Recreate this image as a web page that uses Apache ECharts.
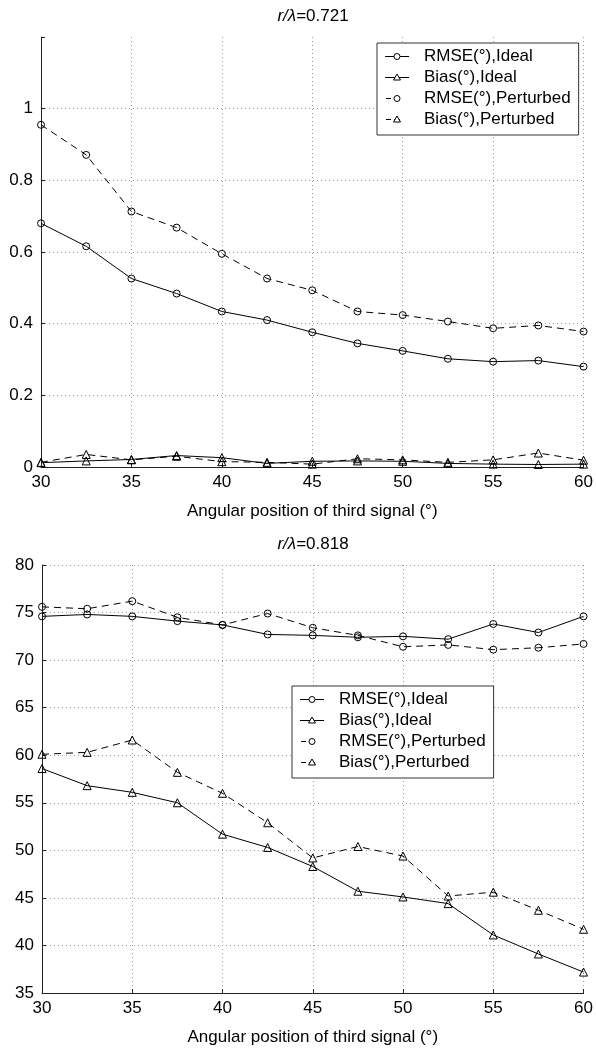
<!DOCTYPE html>
<html>
<head>
<meta charset="utf-8">
<script src="https://cdn.jsdelivr.net/npm/echarts@6/dist/echarts.min.js"></script>
<style>
  html, body { margin: 0; padding: 0; background: #fff; }
  #chart { width: 596px; height: 1049px; }
</style>
</head>
<body>
<div id="chart"></div>
<script>
// Angular positions (x)
const angles = [30, 32.5, 35, 37.5, 40, 42.5, 45, 47.5, 50, 52.5, 55, 57.5, 60];
const seriesNames = ['RMSE(°),Ideal', 'Bias(°),Ideal', 'RMSE(°),Perturbed', 'Bias(°),Perturbed'];
const titleValues = ['0.721', '0.818'];
const xAxisName = 'Angular position of third signal (°)';

// Chart 1: r/λ = 0.721
const rmseIdeal1 = [0.680, 0.616, 0.526, 0.484, 0.434, 0.410, 0.376, 0.345, 0.324, 0.302, 0.294, 0.297, 0.280];
const biasIdeal1 = [0.012, 0.017, 0.021, 0.032, 0.026, 0.010, 0.016, 0.017, 0.016, 0.010, 0.008, 0.007, 0.008];
const rmsePert1 = [0.955, 0.871, 0.713, 0.668, 0.595, 0.526, 0.493, 0.434, 0.424, 0.406, 0.387, 0.395, 0.378];
const biasPert1 = [0.013, 0.035, 0.020, 0.030, 0.015, 0.013, 0.008, 0.023, 0.020, 0.013, 0.020, 0.039, 0.019];

// Chart 2: r/λ = 0.818
const rmseIdeal2 = [74.6, 74.8, 74.6, 74.1, 73.7, 72.7, 72.6, 72.4, 72.5, 72.2, 73.8, 72.9, 74.6];
const biasIdeal2 = [58.6, 56.8, 56.1, 55.0, 51.7, 50.3, 48.3, 45.7, 45.1, 44.4, 41.1, 39.1, 37.2];
const rmsePert2 = [75.6, 75.4, 76.2, 74.5, 73.7, 74.9, 73.4, 72.6, 71.4, 71.6, 71.1, 71.3, 71.7];
const biasPert2 = [60.1, 60.3, 61.6, 58.2, 56.0, 52.9, 49.2, 50.4, 49.4, 45.2, 45.6, 43.7, 41.7];

const FONT = 'Liberation Sans, Arial, Helvetica, sans-serif';
const DASH = [7, 5];

function pairs(vals) { return angles.map((a, i) => [a, vals[i]]); }

function mkSeries(name, vals, idx, dashed, symbol) {
  return {
    name: name, type: 'line', xAxisIndex: idx, yAxisIndex: idx,
    data: pairs(vals),
    symbol: symbol, symbolSize: symbol === 'circle' ? 7 : 8,
    lineStyle: { color: '#000', width: 1, type: dashed ? DASH : 'solid' },
    itemStyle: { color: 'rgba(255,255,255,0)', borderColor: '#000', borderWidth: 1 },
    emphasis: { disabled: true },
    animation: false
  };
}

// Legend icons: small SVG images (line + marker), MATLAB-like
function legendIcon(dashed, marker) {
  const line = dashed
    ? '<line x1="1" y1="5.5" x2="6" y2="5.5" stroke="#000" stroke-width="1"/><line x1="9" y1="5.5" x2="15" y2="5.5" stroke="#000" stroke-width="1"/>'
    : '<line x1="0" y1="5.5" x2="24" y2="5.5" stroke="#000" stroke-width="1"/>';
  const mk = marker === 'circle'
    ? '<circle cx="12" cy="5.5" r="3" fill="#fff" stroke="#000" stroke-width="1"/>'
    : '<polygon points="12,2 15.5,8 8.5,8" fill="#fff" stroke="#000" stroke-width="1"/>';
  const svg = '<svg xmlns="http://www.w3.org/2000/svg" width="24" height="11" viewBox="0 0 24 11">' + line + mk + '</svg>';
  return 'image://data:image/svg+xml;charset=utf-8,' + encodeURIComponent(svg);
}
const legendData = [
  { name: seriesNames[0], icon: legendIcon(false, 'circle') },
  { name: seriesNames[1], icon: legendIcon(false, 'triangle') },
  { name: seriesNames[2], icon: legendIcon(true, 'circle') },
  { name: seriesNames[3], icon: legendIcon(true, 'triangle') }
];

const gridLine = { show: true, showMaxLine: false, showMinLine: false, lineStyle: { color: '#999', type: [1, 3], width: 1 } };
const axisLine = { show: true, onZero: false, lineStyle: { color: '#222', width: 1 } };
const labelStyle = { color: '#000', fontSize: 17, fontFamily: FONT };

function xAx(idx) {
  return {
    type: 'value', gridIndex: idx, min: 30, max: 60, interval: 5,
    axisLine: axisLine, axisTick: { show: true, inside: true, length: 4, lineStyle: { color: '#222' } },
    axisLabel: Object.assign({ margin: 7 }, labelStyle),
    splitLine: Object.assign({}, gridLine, { showMinLine: false, showMaxLine: true }),
    name: xAxisName, nameLocation: 'middle', nameGap: 36,
    nameTextStyle: { color: '#000', fontSize: 17, fontFamily: FONT }
  };
}

const legendCommon = {
  orient: 'vertical',
  borderColor: '#333', borderWidth: 1,
  backgroundColor: '#fff',
  itemWidth: 24, itemHeight: 11, itemGap: 4,
  selectedMode: false,
  textStyle: { color: '#000', fontSize: 17, fontFamily: FONT, padding: [0, 0, 0, 10], lineHeight: 17 },
  data: legendData
};

function titleOf(val, top) {
  return { text: '{i|r/λ}=' + val, left: 313, textAlign: 'center', top: top, padding: 0,
    textStyle: { color: '#000', fontSize: 17, fontWeight: 'normal', fontFamily: FONT,
      rich: { i: { fontStyle: 'italic', fontSize: 17, fontFamily: FONT, color: '#000' } } } };
}

const option = {
  backgroundColor: '#fff',
  animation: false,
  title: [ titleOf(titleValues[0], 8), titleOf(titleValues[1], 536) ],
  grid: [
    { left: 41, right: 11, top: 37, height: 430 },
    { left: 42, right: 11, top: 565, height: 428 }
  ],
  legend: [
    Object.assign({}, legendCommon, { left: 377, top: 43, padding: [5, 8, 7, 8] }),
    Object.assign({}, legendCommon, { left: 292, top: 686, padding: [5, 8, 7, 8] })
  ],
  xAxis: [xAx(0), xAx(1)],
  yAxis: [
    { type: 'value', gridIndex: 0, min: 0, max: 1.2, interval: 0.2,
      axisLine: axisLine, axisTick: { show: true, inside: true, length: 4, lineStyle: { color: '#222' } },
      axisLabel: Object.assign({ margin: 8, formatter: v => (Math.abs(v - 1.2) < 1e-9 ? '' : String(+v.toFixed(1))) }, labelStyle),
      splitLine: gridLine },
    { type: 'value', gridIndex: 1, min: 35, max: 80, interval: 5,
      axisLine: axisLine, axisTick: { show: true, inside: true, length: 4, lineStyle: { color: '#222' } },
      axisLabel: Object.assign({ margin: 8 }, labelStyle),
      splitLine: Object.assign({}, gridLine, { showMaxLine: true }) }
  ],
  series: [
    mkSeries(seriesNames[0], rmseIdeal1, 0, false, 'circle'),
    mkSeries(seriesNames[1], biasIdeal1, 0, false, 'triangle'),
    mkSeries(seriesNames[2], rmsePert1, 0, true, 'circle'),
    mkSeries(seriesNames[3], biasPert1, 0, true, 'triangle'),
    mkSeries(seriesNames[0], rmseIdeal2, 1, false, 'circle'),
    mkSeries(seriesNames[1], biasIdeal2, 1, false, 'triangle'),
    mkSeries(seriesNames[2], rmsePert2, 1, true, 'circle'),
    mkSeries(seriesNames[3], biasPert2, 1, true, 'triangle')
  ]
};

const chart = echarts.init(document.getElementById('chart'), null, { renderer: 'canvas' });
chart.setOption(option);
</script>
</body>
</html>
